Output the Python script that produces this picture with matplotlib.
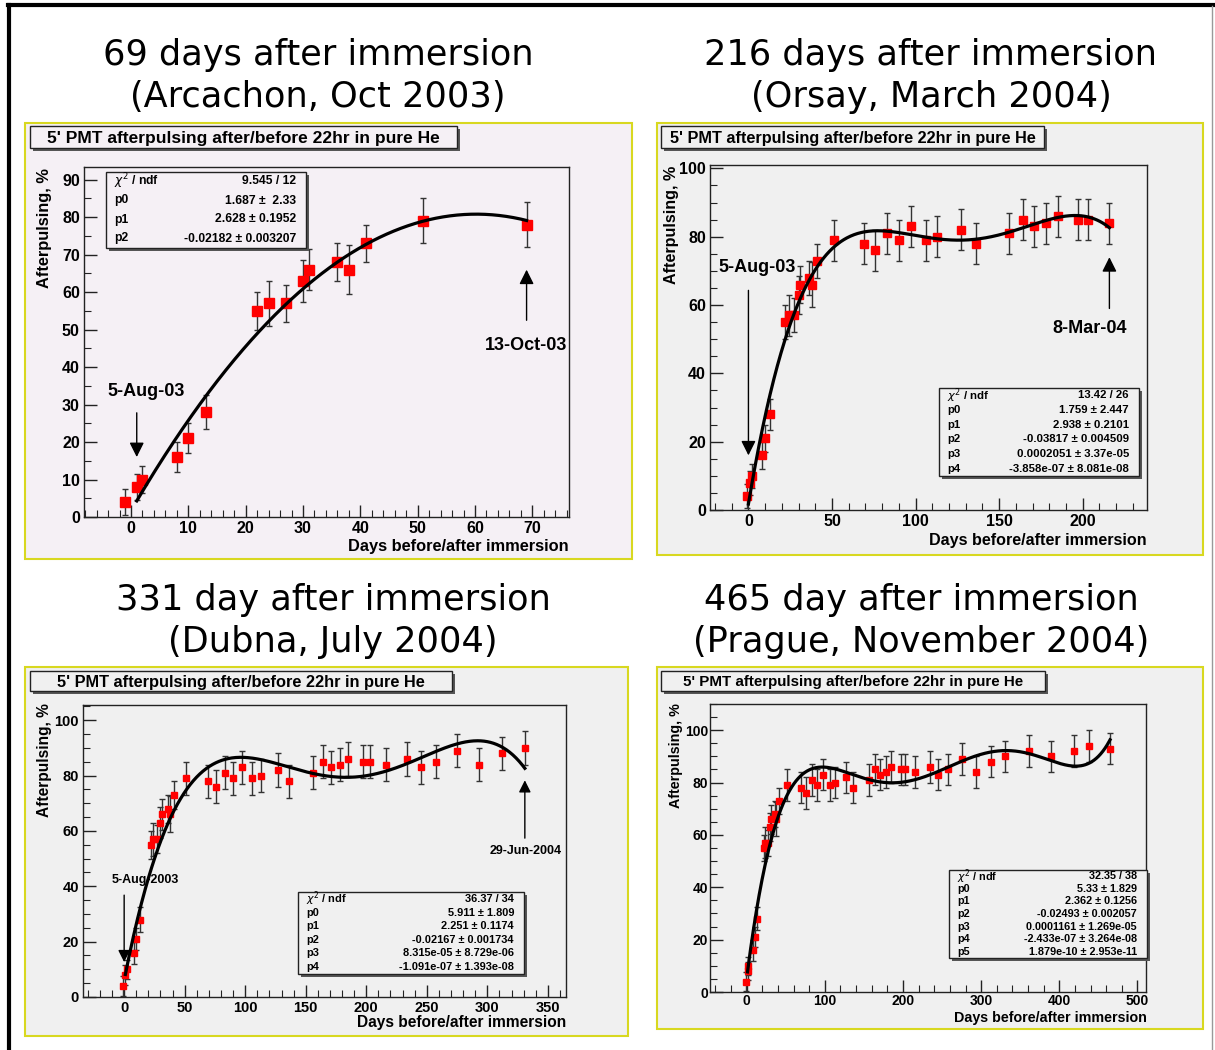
import numpy as np
import matplotlib
matplotlib.use("Agg")
import matplotlib.pyplot as plt
from matplotlib.patches import Rectangle
from matplotlib.lines import Line2D
from matplotlib.ticker import MultipleLocator

W, H = 1215, 1050

# measurements (days relative to immersion, afterpulsing %, error)
days = [-1, 1, 2, 8, 10, 13, 22, 24, 27, 30, 31, 36, 38, 41, 51, 69,
        76, 83, 90, 97, 106, 113, 127, 136, 156, 164, 171, 178, 185, 197, 203, 216,
        234, 245, 258, 275, 293, 312, 331,
        361, 390, 419, 438, 465]
afterpulsing = [4, 8, 10, 16, 21, 28, 55, 57, 57, 63, 66, 68, 66, 73, 79, 78,
                76, 81, 79, 83, 79, 80, 82, 78, 81, 85, 83, 84, 86, 85, 85, 84,
                86, 83, 85, 89, 84, 88, 90,
                92, 90, 92, 94, 93]
errors = [3.5, 3.5, 3.5, 4, 4, 4.5, 5, 6, 5, 5.5, 5.5, 5, 6.5, 5, 6, 6,
          6, 6, 6, 6, 6, 6, 6, 6, 6, 6, 6, 6, 6, 6, 6, 6,
          6, 6, 6, 6, 6, 6, 6,
          6, 6, 6, 6, 6]

# fit parameters printed in the stat boxes (p0, p1, ...)
fit_p1 = [1.687, 2.628, -0.02182]
fit_p2 = [1.759, 2.938, -0.03817, 0.0002051, -3.858e-07]
fit_p3 = [5.911, 2.251, -0.02167, 8.315e-05, -1.091e-07]
fit_p4 = [5.33, 2.362, -0.02493, 0.0001161, -2.433e-07, 1.879e-10]

stats_p1 = ["9.545 / 12", "1.687 \u00b1  2.33", "2.628 \u00b1 0.1952",
            "-0.02182 \u00b1 0.003207"]
stats_p2 = ["13.42 / 26", "1.759 \u00b1 2.447", "2.938 \u00b1 0.2101",
            "-0.03817 \u00b1 0.004509", "0.0002051 \u00b1 3.37e-05",
            "-3.858e-07 \u00b1 8.081e-08"]
stats_p3 = ["36.37 / 34", "5.911 \u00b1 1.809", "2.251 \u00b1 0.1174",
            "-0.02167 \u00b1 0.001734", "8.315e-05 \u00b1 8.729e-06",
            "-1.091e-07 \u00b1 1.393e-08"]
stats_p4 = ["32.35 / 38", "5.33 \u00b1 1.829", "2.362 \u00b1 0.1256",
            "-0.02493 \u00b1 0.002057", "0.0001161 \u00b1 1.269e-05",
            "-2.433e-07 \u00b1 3.264e-08", "1.879e-10 \u00b1 2.953e-11"]

titles = [("69 days after immersion", "(Arcachon, Oct 2003)"),
          ("216 days after immersion", "(Orsay, March 2004)"),
          ("331 day after immersion", "(Dubna, July 2004)"),
          ("465 day after immersion", "(Prague, November 2004)")]
hist_title = "5' PMT afterpulsing after/before 22hr in pure He"

ROOT = "Liberation Sans"

fig = plt.figure(figsize=(W / 100, H / 100), dpi=100)
fig.patch.set_facecolor("white")


def fx(x):
    return x / W


def fy(y):
    return 1 - y / H


def ftext(x, y, s, **kw):
    return fig.text(fx(x), fy(y), s, **kw)


def frect(x0, y0, x1, y1, **kw):
    r = Rectangle((fx(x0), fy(y1)), fx(x1) - fx(x0), fy(y0) - fy(y1),
                  transform=fig.transFigure, **kw)
    fig.add_artist(r)
    return r


def boxed(x0, y0, x1, y1, bg):
    # ROOT style pave with a small shadow
    frect(x0 + 3, y0 + 3, x1 + 3, y1 + 3, facecolor="#555555", edgecolor="none", zorder=5)
    frect(x0, y0, x1, y1, facecolor=bg, edgecolor="#222222", lw=1.0, zorder=6)


def panel(cfg):
    cx0, cy0, cx1, cy1 = cfg["canvas"]
    bg = cfg["bg"]
    frect(cx0, cy0, cx1, cy1, facecolor=bg, edgecolor="#d8d820", lw=1.5, zorder=0)

    # big slide title
    l1, l2 = cfg["title"]
    tx, ty = cfg["title_xy"]
    ftext(tx, ty, l1, ha="center", va="center", fontsize=25.3, family="DejaVu Sans")
    ftext(tx, ty + 42, l2, ha="center", va="center", fontsize=25.3, family="DejaVu Sans")

    # histogram title box
    bx0, by0, bx1, by1 = cfg["hbox"]
    boxed(bx0, by0, bx1, by1, bg)
    ftext((bx0 + bx1) / 2, (by0 + by1) / 2 + 1, hist_title, ha="center", va="center",
          fontsize=cfg["hfs"], family=ROOT, weight="bold", zorder=7)

    ax0, ay0, ax1, ay1 = cfg["axes"]
    ax = fig.add_axes([fx(ax0), fy(ay1), fx(ax1) - fx(ax0), fy(ay0) - fy(ay1)])
    ax.set_facecolor(bg)
    for sp in ax.spines.values():
        sp.set_color("#222222")
        sp.set_linewidth(1.0)

    d = np.array(days, dtype=float)
    v = np.array(afterpulsing, dtype=float)
    e = np.array(errors, dtype=float)
    keep = d <= cfg["last"]
    ax.errorbar(d[keep], v[keep], yerr=e[keep], fmt="none", ecolor="#333333",
                elinewidth=1.0, capsize=2, capthick=1.0, zorder=2)
    ax.plot(d[keep], v[keep], "s", color="#ff0000", ms=cfg["ms"], mec="#ff0000", zorder=3)

    xs = np.linspace(cfg["fit_from"], cfg["last"], 500)
    ys = np.polynomial.polynomial.polyval(xs, cfg["fit"])
    ax.plot(xs, ys, color="black", lw=2.3, zorder=4)

    ax.set_xlim(*cfg["xlim"])
    ax.set_ylim(*cfg["ylim"])
    ax.xaxis.set_major_locator(MultipleLocator(cfg["xmaj"]))
    ax.xaxis.set_minor_locator(MultipleLocator(cfg["xmin"]))
    ax.yaxis.set_major_locator(MultipleLocator(cfg["ymaj"]))
    ax.yaxis.set_minor_locator(MultipleLocator(cfg["ymin"]))
    ax.tick_params(which="both", direction="in", top=False, right=False, color="#222222")
    ax.tick_params(which="major", length=9, width=1.0, pad=cfg.get("pad", 3))
    ax.tick_params(which="minor", length=5, width=0.8)
    for lab in ax.get_xticklabels() + ax.get_yticklabels():
        lab.set_fontfamily(ROOT)
        lab.set_fontweight("bold")
        lab.set_fontsize(cfg["tfs"])

    # axis titles, ROOT places them at the far end of the axis
    lx, ly = cfg["xlabel_xy"]
    ftext(lx, ly, "Days before/after immersion", ha="right", va="center",
          fontsize=cfg["lfs"], family=ROOT, weight="bold")
    yx, yy = cfg["ylabel_xy"]
    ftext(yx, yy, "Afterpulsing, %", ha="center", va="top", rotation=90,
          fontsize=cfg["lfs"], family=ROOT, weight="bold")

    # fit statistics box
    sx0, sy0, sx1, sy1 = cfg["sbox"]
    boxed(sx0, sy0, sx1, sy1, bg)
    names = [r"$\chi^2$ / ndf"] + ["p%d" % i for i in range(len(cfg["stats"]) - 1)]
    n = len(names)
    step = (sy1 - sy0) / n
    for i, (nm, val) in enumerate(zip(names, cfg["stats"])):
        yy = sy0 + step * (i + 0.5)
        ftext(sx0 + 8, yy, nm, ha="left", va="center", fontsize=cfg["sfs"],
              family=ROOT, weight="bold", zorder=7)
        ftext(sx1 - 10, yy, val, ha="right", va="center", fontsize=cfg["sfs"],
              family=ROOT, weight="bold", zorder=7)

    # date markers
    for txt, txy, ax_x, y_from, y_to, fs, hs in cfg["notes"]:
        ax.annotate("", xy=(ax_x, y_to), xytext=(ax_x, y_from),
                    arrowprops=dict(arrowstyle="-|>", color="black", lw=1.0,
                                    mutation_scale=hs, shrinkA=0, shrinkB=0), zorder=5)
        ax.text(txy[0], txy[1], txt, ha="center", va="center", fontsize=fs,
                family=ROOT, weight="bold", zorder=5)
    return ax


panels = [
    dict(canvas=(25, 123, 632, 559), bg="#f5f0f5", title=titles[0], title_xy=(318, 55),
         hbox=(30, 126, 457, 148), hfs=12.5, axes=(84, 167, 569, 517),
         xlim=(-8.2, 76.4), ylim=(0, 93.4), xmaj=10, xmin=2, ymaj=10, ymin=5,
         last=69, fit_from=1, fit=fit_p1, ms=6.5, tfs=11.5, lfs=11.8,
         xlabel_xy=(569, 547), ylabel_xy=(44, 168),
         sbox=(106, 172, 306, 248), stats=stats_p1, sfs=8.7,
         notes=[("5-Aug-03", (2.6, 33.4), 1, 27.8, 16, 13, 22),
                ("13-Oct-03", (68.9, 45.7), 69, 52.5, 66, 13, 22)]),
    dict(canvas=(657, 123, 1203, 555), bg="#f0f0f0", title=titles[1], title_xy=(931, 55),
         hbox=(661, 126, 1044, 148), hfs=11.7, axes=(710, 165, 1147, 510),
         xlim=(-23, 238.5), ylim=(0, 101), xmaj=50, xmin=10, ymaj=20, ymin=5,
         last=216, fit_from=0, fit=fit_p2, ms=5.5, tfs=11.5, lfs=11.6,
         xlabel_xy=(1147, 540), ylabel_xy=(672, 166),
         sbox=(939, 388, 1139, 476), stats=stats_p2, sfs=8.2,
         notes=[("5-Aug-03", (5.4, 71), 0, 64.3, 16, 13, 22),
                ("8-Mar-04", (204, 53.2), 216, 59, 74, 13, 22)]),
    dict(canvas=(25, 667, 628, 1036), bg="#f0f0f0", title=titles[2], title_xy=(333, 600),
         hbox=(30, 671, 452, 691), hfs=11.8, axes=(83, 705, 566, 997),
         xlim=(-34, 365), ylim=(0, 105.5), xmaj=50, xmin=10, ymaj=20, ymin=5,
         last=331, fit_from=1, fit=fit_p3, ms=5, tfs=10.5, lfs=11.2,
         xlabel_xy=(566, 1023), ylabel_xy=(44, 703),
         sbox=(298, 892, 524, 974), stats=stats_p3, sfs=7.9,
         notes=[("5-Aug-2003", (17.4, 42.2), 0, 36.8, 12.6, 9, 18),
                ("29-Jun-2004", (331.4, 52.7), 331, 57.4, 78.3, 9, 18)]),
    dict(canvas=(657, 667, 1203, 1029), bg="#f0f0f0", title=titles[3], title_xy=(921, 600),
         hbox=(661, 671, 1045, 691), hfs=10.9, axes=(710, 704, 1146, 992),
         xlim=(-47, 511), ylim=(0, 110), xmaj=100, xmin=20, ymaj=20, ymin=5,
         last=465, fit_from=1, fit=fit_p4, ms=5, tfs=10, lfs=10.3, pad=1.5,
         xlabel_xy=(1147, 1018), ylabel_xy=(676, 703),
         sbox=(949, 870, 1147, 958), stats=stats_p4, sfs=7.8,
         notes=[]),
]

for cfg in panels:
    panel(cfg)

# slide frame
fig.add_artist(Line2D([fx(8), fx(1215)], [fy(5), fy(5)], color="black", lw=3,
                      transform=fig.transFigure))
fig.add_artist(Line2D([fx(9), fx(9)], [fy(5), fy(1050)], color="black", lw=3,
                      transform=fig.transFigure))
fig.add_artist(Line2D([fx(1212), fx(1212)], [fy(6), fy(1050)], color="#999999", lw=1,
                      transform=fig.transFigure))

fig.savefig("out.png", dpi=100)
